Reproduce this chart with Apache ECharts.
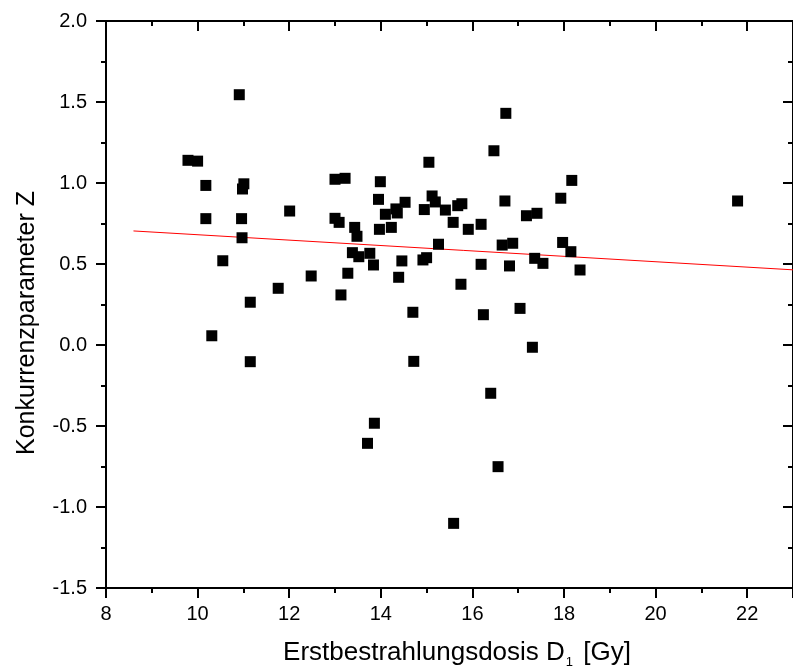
<!DOCTYPE html>
<html>
<head>
<meta charset="utf-8">
<script src="https://cdn.jsdelivr.net/npm/echarts@6/dist/echarts.min.js"></script>
<style>
html,body{margin:0;padding:0;background:#fff;}
#chart{width:793px;height:671px;}
</style>
</head>
<body>
<div id="chart"></div>
<script>
// Data
const doseX = [9.79,10.0,10.18,10.18,10.91,11.01,10.98,10.96,10.97,12.01,10.55,11.15,11.76,10.31,11.15,
  13.0,13.22,13.99,15.05,16.73,16.47,18.17,17.93,16.71,13.95,15.12,15.19,14.53,14.33,14.95,15.41,15.68,15.77,
  14.1,14.36,17.18,17.41,13.0,13.09,13.43,13.48,13.97,14.23,15.58,15.91,16.19,15.26,16.65,16.88,17.97,18.15,
  18.35,21.79,13.38,13.52,13.76,13.84,14.46,14.92,15.0,16.19,16.81,17.36,17.54,12.48,13.28,14.39,15.75,13.13,
  14.70,16.24,17.04,17.31,14.72,16.40,13.86,13.71,16.56,15.59];
const paramZ = [1.14,1.135,0.985,0.78,1.545,0.995,0.963,0.78,0.662,0.827,0.52,0.264,0.35,0.057,-0.103,
  1.023,1.029,1.008,1.128,1.43,1.199,1.016,0.906,0.889,0.899,0.92,0.883,0.881,0.84,0.836,0.833,0.86,0.872,
  0.807,0.815,0.798,0.813,0.782,0.757,0.726,0.671,0.714,0.726,0.757,0.714,0.745,0.622,0.617,0.628,0.633,0.576,
  0.463,0.889,0.57,0.545,0.566,0.494,0.519,0.525,0.539,0.498,0.488,0.535,0.504,0.426,0.443,0.418,0.375,0.309,
  0.202,0.187,0.226,-0.014,-0.101,-0.298,-0.483,-0.607,-0.751,-1.101];
const fitX = [8.6, 23];
const fitY = [0.704, 0.464];
const yTicks = [-1.5,-1.0,-0.5,0.0,0.5,1.0,1.5,2.0];
const xTicks = [8,10,12,14,16,18,20,22];

const FONT = '"Liberation Sans", Arial, sans-serif';
const scatterData = doseX.map((x,i)=>[x, paramZ[i]]);
const fitData = fitX.map((x,i)=>[x, fitY[i]]);

const chart = echarts.init(document.getElementById('chart'), null, {renderer:'canvas'});
const axisLine = {show:true, onZero:false, lineStyle:{color:'#000', width:2}};
chart.setOption({
  animation:false,
  backgroundColor:'#fff',
  grid:{left:106, right:-10, top:21, bottom:83, containLabel:false},
  xAxis:[{
    type:'value', position:'bottom', min:8, max:23, interval:2,
    axisLine:axisLine,
    axisTick:{show:true, inside:false, length:10, lineStyle:{color:'#000', width:2}},
    minorTick:{show:true, splitNumber:2, length:5, lineStyle:{color:'#000', width:2}},
    splitLine:{show:false},
    axisLabel:{show:true, margin:16, color:'#000', fontFamily:FONT, fontSize:20, showMaxLabel:false,
      formatter:(v)=> xTicks.indexOf(v)>=0 ? String(v) : ''}
  },{
    type:'value', position:'top', min:8, max:23, interval:2,
    axisLine:axisLine,
    axisTick:{show:true, inside:true, length:10, lineStyle:{color:'#000', width:2}},
    minorTick:{show:true, splitNumber:2, length:5, lineStyle:{color:'#000', width:2}},
    splitLine:{show:false}, axisLabel:{show:false}
  }],
  yAxis:[{
    type:'value', position:'left', min:-1.5, max:2, interval:0.5,
    axisLine:axisLine,
    axisTick:{show:true, inside:false, length:10, lineStyle:{color:'#000', width:2}},
    minorTick:{show:true, splitNumber:2, length:5, lineStyle:{color:'#000', width:2}},
    splitLine:{show:false},
    axisLabel:{show:true, margin:19, color:'#000', fontFamily:FONT, fontSize:20,
      formatter:(v)=> yTicks.indexOf(v)>=0 ? v.toFixed(1) : ''}
  },{
    type:'value', position:'right', min:-1.5, max:2, interval:0.5,
    axisLine:axisLine,
    axisTick:{show:true, inside:true, length:10, lineStyle:{color:'#000', width:2}},
    minorTick:{show:true, splitNumber:2, length:5, lineStyle:{color:'#000', width:2}},
    splitLine:{show:false}, axisLabel:{show:false}
  }],
  graphic:[{
    type:'text', x:27, y:323, rotation:Math.PI/2,
    style:{text:'Konkurrenzparameter Z', fontFamily:FONT, fontSize:25, fill:'#000',
      align:'center', verticalAlign:'middle'}
  },{
    type:'text', x:457, y:654,
    style:{text:'{a|Erstbestrahlungsdosis D}{s|1}{a| [Gy]}', fontFamily:FONT, fontSize:26, fill:'#000',
      align:'center', verticalAlign:'middle',
      rich:{
        a:{fontFamily:FONT, fontSize:26, fill:'#000', lineHeight:29, verticalAlign:'top'},
        s:{fontFamily:FONT, fontSize:13, fill:'#000', lineHeight:13, verticalAlign:'bottom', padding:[25,3,0,1]}
      }}
  }],
  series:[{
    type:'line', data:fitData, xAxisIndex:0, yAxisIndex:0,
    showSymbol:false, symbol:'none', lineStyle:{color:'#ff0000', width:1}, z:1, clip:true
  },{
    type:'scatter', data:scatterData, xAxisIndex:0, yAxisIndex:0,
    symbol:'rect', symbolSize:11, itemStyle:{color:'#000', opacity:1}, z:2, clip:true
  }]
});
</script>
</body>
</html>
